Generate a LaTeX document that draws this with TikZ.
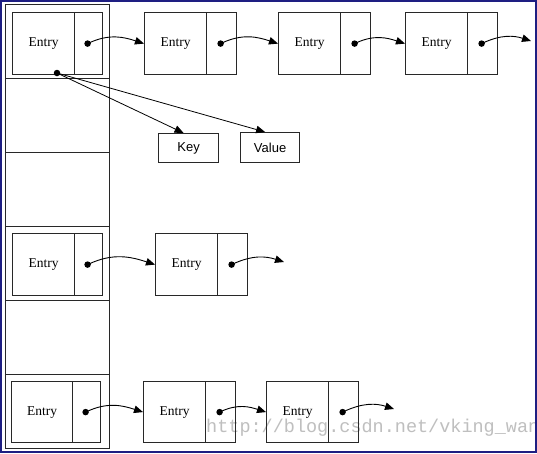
\documentclass[tikz,border=0pt]{standalone}
\usepackage{fontspec}
\setmainfont{Liberation Serif}
\newfontfamily\keyfont{Liberation Sans}
\newfontfamily\wmfont{Liberation Mono}
\usetikzlibrary{arrows.meta}
\definecolor{frameblue}{RGB}{30,30,130}
\definecolor{linegray}{RGB}{40,40,40}
\tikzset{
  cellbox/.style={draw=linegray, line width=1.2pt, anchor=north west, inner sep=0pt,
    minimum height=62pt, font=\fontsize{13.5}{14}\selectfont},
  bucket/.style={draw=linegray, line width=1.2pt, anchor=north west, inner sep=0pt,
    minimum width=104pt, minimum height=74pt},
  kvbox/.style={draw=linegray, line width=1.2pt, anchor=north west, inner sep=0pt,
    font=\keyfont\fontsize{13}{14}\selectfont},
  dot/.style={circle, fill=black, inner sep=0pt, minimum size=6.5pt},
  link/.style={draw=black, line width=0.9pt, -{Triangle[length=9pt,width=7.5pt]}, shorten <=-2pt},
  kvlink/.style={draw=black, line width=0.8pt, -{Triangle[length=9pt,width=7.5pt]}, shorten <=-2pt}
}
\begin{document}
\begin{tikzpicture}[x=1pt, y=-1pt]
\useasboundingbox (0,0) rectangle (537,453);
\fill[white] (0,0) rectangle (537,453);

% watermark
\begin{scope}
\clip (0,0) rectangle (535,450);
\node[anchor=west, text=black!25, font=\wmfont\fontsize{18.5}{19}\selectfont, inner sep=0pt]
  (wm) at (206,428) {http://blog.csdn.net/vking\_wan};
\end{scope}
\draw[frameblue, line width=2.2pt] (1.1,1.1) rectangle (535.9,451.9);

% bucket column
\node[bucket] (k1) at (5,4) {};
\node[bucket] (k2) at (5,78) {};
\node[bucket] (k3) at (5,152) {};
\node[bucket] (k4) at (5,226) {};
\node[bucket] (k5) at (5,300) {};
\node[bucket] (k6) at (5,374) {};

% top row
\node[cellbox, minimum width=62pt] (a1) at (12,12) {Entry};
\node[cellbox, minimum width=28pt] (a1p) at (74,12) {};
\node[cellbox, minimum width=62pt] (a2) at (144,12) {Entry};
\node[cellbox, minimum width=30pt] (a2p) at (206,12) {};
\node[cellbox, minimum width=62pt] (a3) at (278,12) {Entry};
\node[cellbox, minimum width=30pt] (a3p) at (340,12) {};
\node[cellbox, minimum width=62pt] (a4) at (405,12) {Entry};
\node[cellbox, minimum width=30pt] (a4p) at (467,12) {};
\coordinate (a5) at (531,41);

% middle row
\node[cellbox, minimum width=62pt] (b1) at (12,233) {Entry};
\node[cellbox, minimum width=28pt] (b1p) at (74,233) {};
\node[cellbox, minimum width=62pt] (b2) at (155,233) {Entry};
\node[cellbox, minimum width=30pt] (b2p) at (217,233) {};
\coordinate (b3) at (284,262);

% bottom row
\node[cellbox, minimum width=61pt, minimum height=61pt] (c1) at (11,381) {Entry};
\node[cellbox, minimum width=28pt, minimum height=61pt] (c1p) at (72,381) {};
\node[cellbox, minimum width=62pt, minimum height=61pt] (c2) at (143,381) {Entry};
\node[cellbox, minimum width=30pt, minimum height=61pt] (c2p) at (205,381) {};
\node[cellbox, minimum width=62pt, minimum height=61pt] (c3) at (266,381) {Entry};
\node[cellbox, minimum width=30pt, minimum height=61pt] (c3p) at (328,381) {};
\coordinate (c4) at (394,409);

% key / value
\node[kvbox, minimum width=60pt, minimum height=29pt] (key) at (158,133) {Key};
\node[kvbox, minimum width=59pt, minimum height=30pt] (val) at (240,132) {Value};

% dots
\node[dot] (da1) at ([xshift=-1pt]a1p.center) {};
\node[dot] (da2) at ([xshift=-1pt]a2p.center) {};
\node[dot] (da3) at ([xshift=-1pt]a3p.center) {};
\node[dot] (da4) at ([xshift=-1pt]a4p.center) {};
\node[dot] (db1) at ([xshift=-1pt]b1p.center) {};
\node[dot] (db2) at ([xshift=-1pt]b2p.center) {};
\node[dot] (dc1) at ([xshift=-1pt]c1p.center) {};
\node[dot] (dc2) at ([xshift=-1pt]c2p.center) {};
\node[dot] (dc3) at ([xshift=-1pt]c3p.center) {};
\node[dot] (dk) at (57,73) {};

% links
\draw[link] (da1) to[out=25,in=162] (a2.west);
\draw[link] (da2) to[out=25,in=162] (a3.west);
\draw[link] (da3) to[out=25,in=162] (a4.west);
\draw[link] (da4) to[out=25,in=162] (a5);
\draw[link] (db1) to[out=25,in=162] (b2.west);
\draw[link] (db2) to[out=25,in=162] (b3);
\draw[link] (dc1) to[out=25,in=162] (c2.west);
\draw[link] (dc2) to[out=25,in=162] (c3.west);
\draw[link] (dc3) to[out=25,in=162] (c4);
\draw[kvlink] (dk) -- ([xshift=-5pt]key.north);
\draw[kvlink] (dk) -- ([xshift=-5pt]val.north);
\end{tikzpicture}
\end{document}
